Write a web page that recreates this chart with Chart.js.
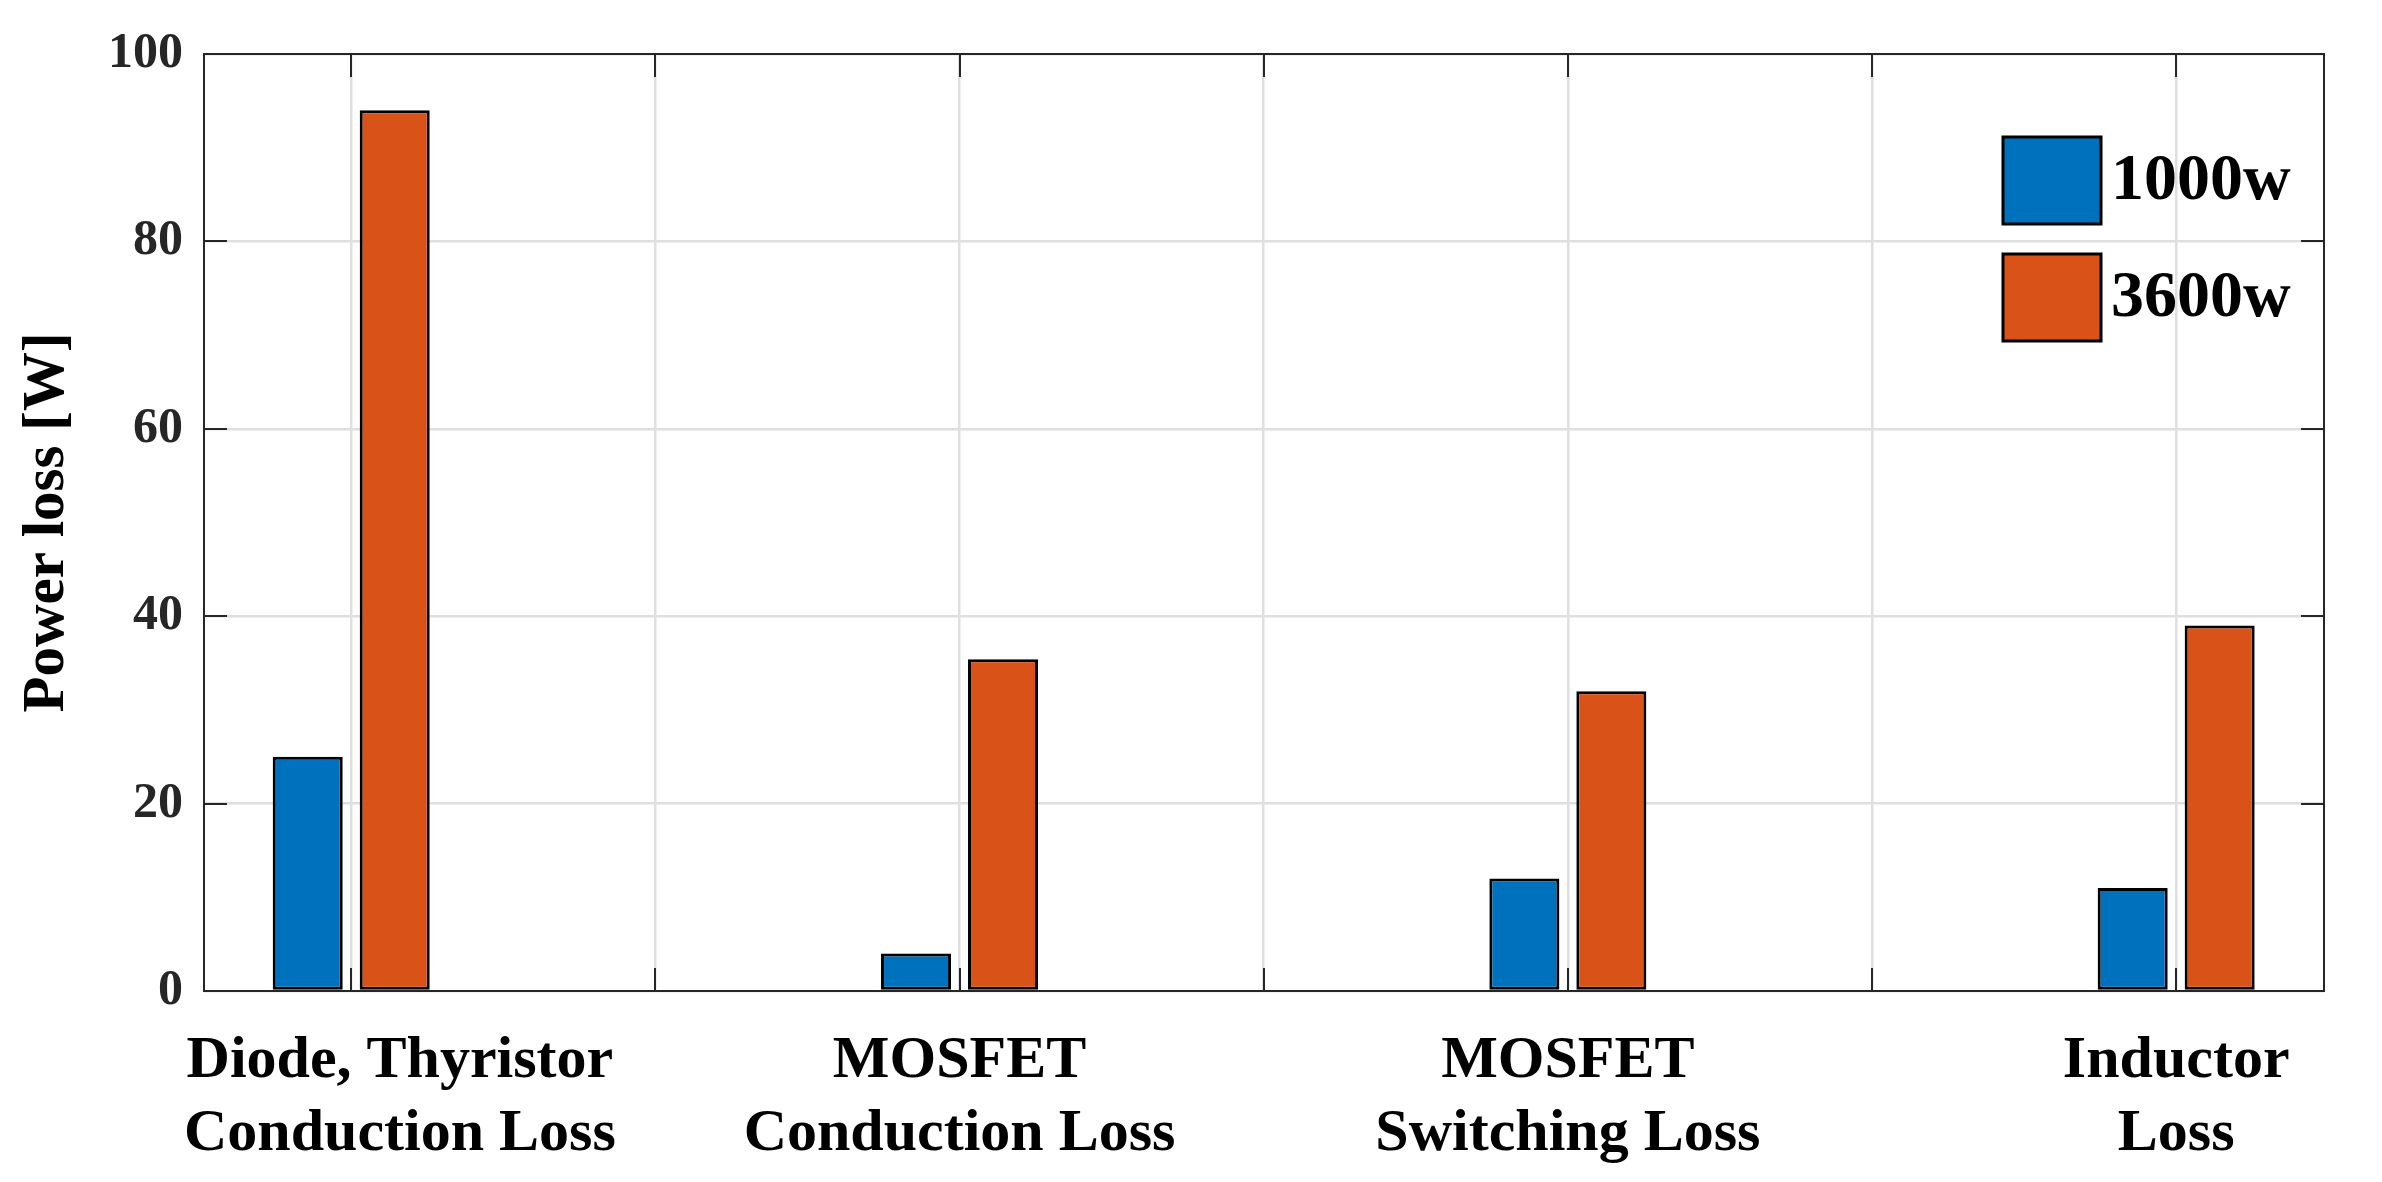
<!DOCTYPE html>
<html>
<head>
<meta charset="utf-8">
<script src="https://cdn.jsdelivr.net/npm/chart.js@4.4.1/dist/chart.umd.min.js"></script>
<style>
  html, body { margin: 0; padding: 0; background: #ffffff; overflow: hidden; }
  #wrap { width: 2382px; height: 1182px; position: relative; }
</style>
</head>
<body>
<div id="wrap"><canvas id="c"></canvas></div>
<script>
// ---- data ----
const categories = [
  ['Diode, Thyristor', 'Conduction Loss'],
  ['MOSFET', 'Conduction Loss'],
  ['MOSFET', 'Switching Loss'],
  ['Inductor', 'Loss']
];
const seriesLabels = ['1000w', '3600w'];
const loss1000w = [25, 4, 12, 11];
const loss3600w = [94, 35.4, 32, 39];
const yTicks = [0, 20, 40, 60, 80, 100];
const xGridTicks = [1, 1.5, 2, 2.5, 3, 3.5, 4];
const yTitle = 'Power loss [W]';

const FONT = "'Liberation Serif', 'Times New Roman', serif";
const BLUE = '#0072BD';
const ORANGE = '#D95319';
const AXIS = '#262626';

const toPoints = arr => arr.map((v, i) => ({ x: i + 1, y: v }));

// box, inner tick marks, category labels and legend
const matlabAxes = {
  id: 'matlabAxes',
  afterDraw(chart, args, opts) {
    const { ctx, chartArea: a, scales } = chart;
    const xs = scales.x, ys = scales.y;
    ctx.save();
    // box
    ctx.strokeStyle = AXIS;
    ctx.lineWidth = 2;
    ctx.strokeRect(a.left, a.top, a.right - a.left, a.bottom - a.top);
    // inner ticks
    const L = opts.tickLen;
    ctx.beginPath();
    xs.ticks.forEach(t => {
      const px = Math.round(xs.getPixelForValue(t.value));
      ctx.moveTo(px, a.bottom); ctx.lineTo(px, a.bottom - L);
      ctx.moveTo(px, a.top); ctx.lineTo(px, a.top + L);
    });
    ys.ticks.forEach(t => {
      const py = Math.round(ys.getPixelForValue(t.value));
      ctx.moveTo(a.left, py); ctx.lineTo(a.left + L, py);
      ctx.moveTo(a.right, py); ctx.lineTo(a.right - L, py);
    });
    ctx.stroke();

    // category labels
    ctx.fillStyle = '#000000';
    ctx.font = 'bold 60px ' + FONT;
    ctx.textAlign = 'center';
    ctx.textBaseline = 'middle';
    categories.forEach((lines, i) => {
      const px = xs.getPixelForValue(i + 1 + (opts.labelNudge[i] || 0));
      lines.forEach((ln, k) => {
        ctx.fillText(ln, px, a.bottom + opts.labelFirstLine + k * opts.labelLineStep);
      });
    });

    // legend
    const lg = opts.legend;
    chart.data.datasets.forEach((ds, i) => {
      const bx = a.right - lg.fromRight;
      const by = a.top + lg.fromTop + i * lg.rowStep;
      ctx.fillStyle = ds.backgroundColor;
      ctx.fillRect(bx, by, lg.boxW, lg.boxH);
      ctx.strokeStyle = '#000000';
      ctx.lineWidth = 3;
      ctx.strokeRect(bx, by, lg.boxW, lg.boxH);
      ctx.fillStyle = '#000000';
      ctx.font = 'bold 66px ' + FONT;
      ctx.textAlign = 'left';
      ctx.textBaseline = 'middle';
      ctx.fillText(ds.label, bx + lg.boxW + 10, by + lg.boxH / 2 + 1);
    });
    ctx.restore();
  }
};

new Chart(document.getElementById('c'), {
  type: 'bar',
  data: {
    datasets: [
      { label: seriesLabels[0], data: toPoints(loss1000w), backgroundColor: BLUE,
        borderColor: '#000000', borderWidth: 3, borderSkipped: false },
      { label: seriesLabels[1], data: toPoints(loss3600w), backgroundColor: ORANGE,
        borderColor: '#000000', borderWidth: 3, borderSkipped: false }
    ]
  },
  options: {
    responsive: true,
    maintainAspectRatio: false,
    animation: false,
    layout: { padding: { top: 54, right: 58, left: 0, bottom: 0 } },
    datasets: { bar: { categoryPercentage: 0.572, barPercentage: 0.805 } },
    scales: {
      x: {
        type: 'linear',
        min: 0.758,
        max: 4.243,
        offset: false,
        afterBuildTicks: s => { s.ticks = xGridTicks.map(v => ({ value: v })); },
        afterFit: s => { s.height = 191; },
        ticks: { display: false },
        grid: { color: '#dfdfdf', lineWidth: 2.5, drawTicks: false, offset: false },
        border: { display: false }
      },
      y: {
        type: 'linear',
        min: 0,
        max: 100,
        afterBuildTicks: s => { s.ticks = yTicks.map(v => ({ value: v })); },
        afterFit: s => { s.width = 204; },
        ticks: {
          color: AXIS,
          padding: 21,
          font: { family: FONT, size: 50, weight: 'bold' }
        },
        grid: { color: '#dfdfdf', lineWidth: 2.5, drawTicks: false },
        border: { display: false },
        title: {
          display: true,
          text: yTitle,
          color: '#000000',
          padding: { top: 12, bottom: 0 },
          font: { family: FONT, size: 59, weight: 'bold', lineHeight: 1.2 }
        }
      }
    },
    plugins: {
      legend: { display: false },
      tooltip: { enabled: false },
      matlabAxes: {
        tickLen: 23,
        labelNudge: [0.08, 0, 0, 0],
        labelFirstLine: 70,
        labelLineStep: 73,
        legend: { fromRight: 321, fromTop: 83, rowStep: 117, boxW: 98, boxH: 87 }
      }
    }
  },
  plugins: [matlabAxes]
});
</script>
</body>
</html>
